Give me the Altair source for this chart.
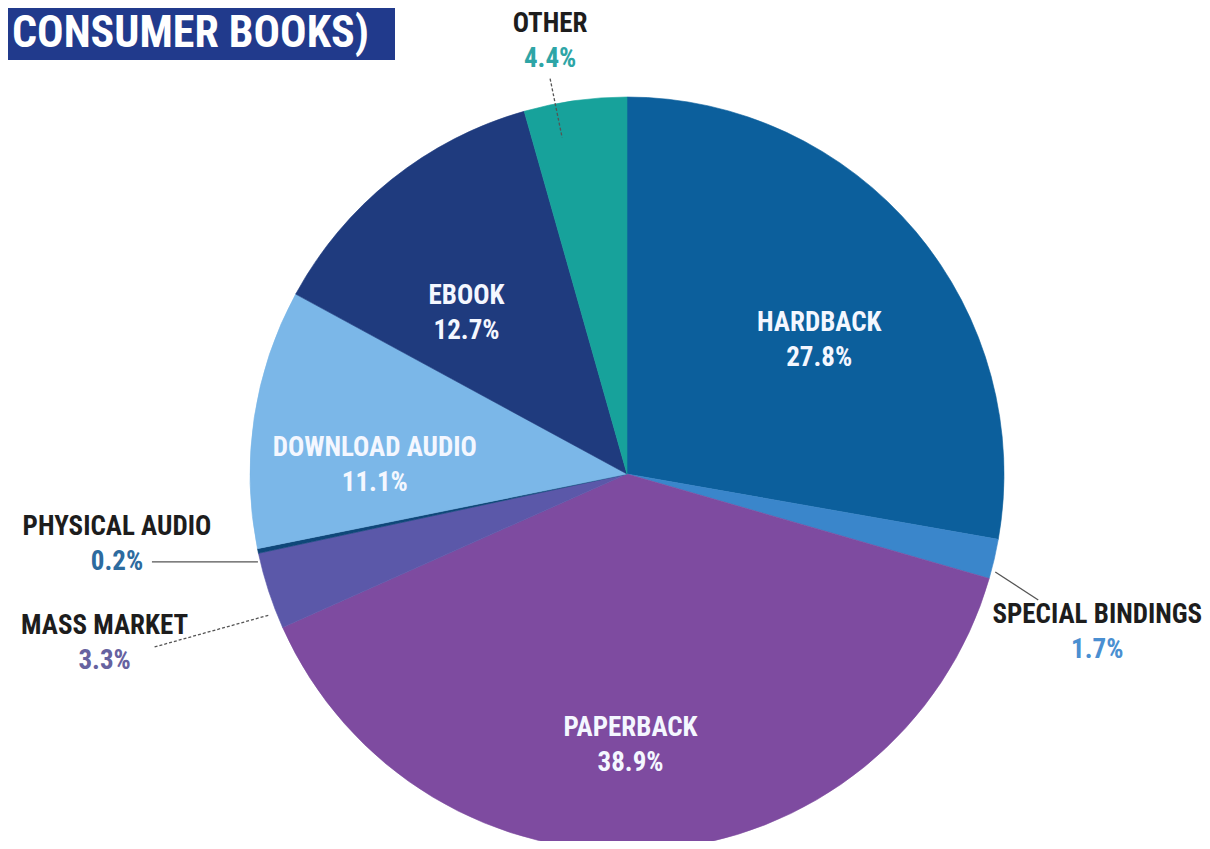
import altair as alt
import pandas as pd
import numpy as np

# ---------------- data ----------------
categories = ["HARDBACK", "SPECIAL BINDINGS", "PAPERBACK", "MASS MARKET",
              "PHYSICAL AUDIO", "DOWNLOAD AUDIO", "EBOOK", "OTHER"]
shares = [27.8, 1.7, 38.9, 3.3, 0.2, 11.1, 12.7, 4.4]
share_labels = ["27.8%", "1.7%", "38.9%", "3.3%", "0.2%", "11.1%", "12.7%", "4.4%"]
title_text = "CONSUMER BOOKS)"

# ---------------- styles ----------------
slice_colors = ["#0c5f9c", "#3a86cb", "#7e4ba0", "#5b58a9",
                "#0f4779", "#7bb7e8", "#1f3b7e", "#17a29b"]
FONT = "Liberation Sans Narrow, Arial Narrow, Roboto Condensed, DejaVu Sans Condensed, sans-serif"
W, H = 1194, 833
CX, CY, R = 619, 466, 377

# label layout: radius along the slice's mid angle, plus pixel offset
label_layout = {
    "HARDBACK":         dict(r=234, dx=13,   dy=17,  inside=True),
    "PAPERBACK":        dict(r=269, dx=-15,  dy=3,   inside=True),
    "DOWNLOAD AUDIO":   dict(r=252, dx=-3,   dy=29,  inside=True),
    "EBOOK":            dict(r=228, dx=-18,  dy=18,  inside=True),
    "OTHER":            dict(r=377, dx=-25,  dy=-59, inside=False, pct="#2ea5a6"),
    "SPECIAL BINDINGS": dict(r=377, dx=103,  dy=73,  inside=False, pct="#4a8fd1"),
    "PHYSICAL AUDIO":   dict(r=377, dx=-141, dy=-6,  inside=False, pct="#2d6b9f"),
    "MASS MARKET":      dict(r=377, dx=-164, dy=53,  inside=False, pct="#6662a0"),
}
# leader lines: two offsets from the label block centre, dashed flag
leader_layout = {
    "OTHER":            ((0, 37), (12, 96), True),
    "SPECIAL BINDINGS": ((-59, -32), (-102, -60), False),
    "PHYSICAL AUDIO":   ((35, 17), (141, 17), False),
    "MASS MARKET":      ((50, 3), (165, -29), True),
}

total = float(sum(shares))
cum = np.cumsum(shares)
mid = (cum - np.array(shares) / 2.0) / total * 2 * np.pi

df = pd.DataFrame({"category": categories, "share": shares,
                   "order": list(range(len(categories)))})

rows = []
lead_rows = []
for i, cat in enumerate(categories):
    lay = label_layout[cat]
    bx = CX + lay["r"] * np.sin(mid[i]) + lay["dx"]
    by = CY - lay["r"] * np.cos(mid[i]) + lay["dy"]
    if lay["inside"]:
        ncol, pcol = "#f4f7ff", "#f4f7ff"
    else:
        ncol, pcol = "#1d1d1d", lay["pct"]
    rows.append(dict(x=bx, y=by - 17.5, text=cat, col=ncol))
    rows.append(dict(x=bx, y=by + 17.5, text=share_labels[i], col=pcol))
    if cat in leader_layout:
        a, b, dashed = leader_layout[cat]
        lead_rows.append(dict(x=bx + a[0], y=by + a[1], x2=bx + b[0], y2=by + b[1],
                              dashed=dashed))

labels = pd.DataFrame(rows)
leads = pd.DataFrame(lead_rows)

pie = alt.Chart(df).mark_arc(outerRadius=R, strokeWidth=0.6).encode(
    theta=alt.Theta("share:Q", stack=True),
    order=alt.Order("order:Q"),
    color=alt.Color("category:N", scale=alt.Scale(domain=categories, range=slice_colors), legend=None),
    stroke=alt.Stroke("category:N", scale=alt.Scale(domain=categories, range=slice_colors), legend=None),
    x=alt.value(CX),
    y=alt.value(CY),
)

solid = alt.Chart(leads).transform_filter("!datum.dashed").mark_rule(
    color="#555555", strokeWidth=1.3).encode(
    x=alt.X("x:Q", scale=None, axis=None), y=alt.Y("y:Q", scale=None, axis=None),
    x2="x2:Q", y2="y2:Q")

dashed = alt.Chart(leads).transform_filter("datum.dashed").mark_rule(
    color="#555555", strokeWidth=1.3, strokeDash=[3, 2]).encode(
    x=alt.X("x:Q", scale=None, axis=None), y=alt.Y("y:Q", scale=None, axis=None),
    x2="x2:Q", y2="y2:Q")

text = alt.Chart(labels).mark_text(font=FONT, fontSize=27, fontWeight="bold",
                                   align="center", baseline="middle").encode(
    x=alt.X("x:Q", scale=None, axis=None),
    y=alt.Y("y:Q", scale=None, axis=None),
    text="text:N",
    color=alt.Color("col:N", scale=None),
)

tdf = pd.DataFrame({"t": [title_text]})
title_box = alt.Chart(tdf).mark_rect(color="#213a8c").encode(
    x=alt.value(0), x2=alt.value(387), y=alt.value(0), y2=alt.value(52))
title_txt = alt.Chart(tdf).mark_text(font=FONT, fontSize=44, fontWeight="bold",
                                     color="#ffffff", align="left", baseline="middle").encode(
    x=alt.value(4), y=alt.value(26), text="t:N")

chart = alt.layer(pie, solid, dashed, text, title_box, title_txt).properties(
    width=W, height=H, padding=0,
    autosize=alt.AutoSizeParams(type="none"),
    background="#ffffff",
).configure_view(stroke=None)

chart.save("out.html", embed_options={"renderer": "svg", "actions": False})
